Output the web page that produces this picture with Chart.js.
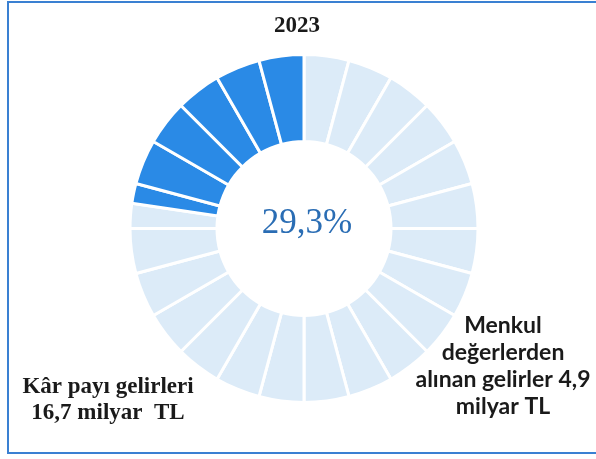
<!DOCTYPE html>
<html>
<head>
<meta charset="utf-8">
<script src="https://cdn.jsdelivr.net/npm/chart.js@4.4.1/dist/chart.umd.min.js"></script>
<style>
  html, body { margin: 0; padding: 0; background: #fff; overflow: hidden; }
  #wrap { position: relative; width: 596px; height: 459px; }
  #frame { position: absolute; left: 7px; top: 1px; width: 600px; height: 453px; border: 2px solid #3a80d2; box-sizing: border-box; }
  canvas { position: absolute; left: 0; top: 0; }
</style>
</head>
<body>
<div id="wrap">
  <div id="frame"></div>
  <canvas id="chart" width="596" height="459"></canvas>
</div>
<script>
// values (milyar TL), clockwise from 12 o'clock
var categories = ['Kâr payı gelirleri', 'Menkul değerlerden alınan gelirler'];
var values = [16.7, 4.9];
var sliceColors = ['#dcebf8', '#2a8ae6'];
var segmentCount = 24;
var yearLabel = '2023';
var centerLabel = '29,3%';
var leftLabel = ['Kâr payı gelirleri', '16,7 milyar  TL'];
var rightLabel = ['Menkul', 'değerlerden', 'alınan gelirler 4,9', 'milyar TL'];

// cut the two values into ring segments of equal size
var total = values.reduce(function (a, b) { return a + b; }, 0);
var step = total / segmentCount;
var pieces = [], pieceColors = [], pieceNames = [];
var pos = 0;
values.forEach(function (v, i) {
	var end = pos + v / step;
	while (end - pos > 1e-6) {
		var next = Math.floor(pos + 1e-6) + 1;
		var cut = Math.min(next, end);
		pieces.push((cut - pos) * step);
		pieceColors.push(sliceColors[i]);
		pieceNames.push(categories[i]);
		pos = cut;
	}
});

var textPlugin = {
	id: 'texts',
	afterDraw: function (chart) {
		var ctx = chart.ctx;
		ctx.save();
		ctx.textAlign = 'center';
		ctx.textBaseline = 'middle';

		ctx.fillStyle = '#1a1a1a';
		ctx.font = 'bold 23px "Liberation Serif"';
		ctx.fillText(yearLabel, 297, 26);

		ctx.fillStyle = '#2a6db4';
		ctx.font = '35px "Liberation Serif"';
		ctx.fillText(centerLabel, 307, 224);

		ctx.fillStyle = '#1a1a1a';
		ctx.font = 'bold 23px "Liberation Serif"';
		ctx.fillText(leftLabel[0], 108, 387);
		ctx.fillText(leftLabel[1], 108, 413);

		ctx.font = 'bold 23px Lato';
		rightLabel.forEach(function (line, i) {
			ctx.fillText(line, 503, 326 + i * 27);
		});
		ctx.restore();
	}
};

new Chart(document.getElementById('chart'), {
	type: 'doughnut',
	data: {
		labels: pieceNames,
		datasets: [{
			data: pieces,
			backgroundColor: pieceColors,
			borderColor: '#ffffff',
			borderWidth: 3,
			hoverOffset: 0
		}]
	},
	options: {
		responsive: false,
		animation: false,
		cutout: '50%',
		rotation: 0,
		layout: {padding: {top: 53, bottom: 55, left: 127, right: 115}},
		plugins: {
			legend: {display: false},
			tooltip: {enabled: false},
			title: {display: false}
		}
	},
	plugins: [textPlugin]
});
</script>
</body>
</html>
